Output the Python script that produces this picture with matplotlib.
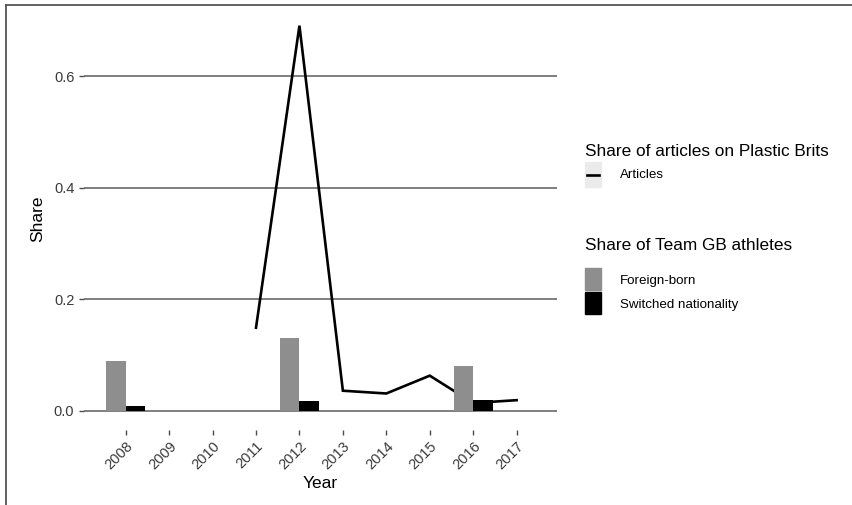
import numpy as np
import matplotlib
matplotlib.use("Agg")
from matplotlib import pyplot as plt
from matplotlib.patches import Rectangle
from matplotlib.lines import Line2D

plt.rcParams['font.family'] = ['Liberation Sans', 'DejaVu Sans']

years = [2008, 2009, 2010, 2011, 2012, 2013, 2014, 2015, 2016, 2017]

# share of articles on Plastic Brits (starts 2011)
article_years = [2011, 2012, 2013, 2014, 2015, 2016, 2017]
articles = [0.149, 0.691, 0.036, 0.031, 0.063, 0.014, 0.019]

# share of Team GB athletes (Olympic years)
olympic_years = [2008, 2012, 2016]
foreign_born = [0.090, 0.131, 0.081]
switched = [0.0085, 0.018, 0.020]

fig = plt.figure(figsize=(8.52, 5.05), dpi=100)
ax = fig.add_axes([84 / 852, 1 - 430 / 505, 473 / 852, 423 / 505])

w = 0.45
ax.bar(np.array(olympic_years) - w / 2, foreign_born, width=w, color='#8e8e8e', zorder=3)
ax.bar(np.array(olympic_years) + w / 2, switched, width=w, color='black', zorder=3)
ax.plot(article_years, articles, color='black', lw=1.9, zorder=2, solid_joinstyle='miter')

ax.set_ylim(-0.0345, 0.7245)
ax.set_xlim(2007.04, 2017.93)
ax.set_yticks([0.0, 0.2, 0.4, 0.6])
ax.set_yticklabels(['0.0', '0.2', '0.4', '0.6'])
ax.set_xticks(years)
ax.set_xticklabels([str(y) for y in years], rotation=45, ha='right', va='top',
                   rotation_mode='anchor')
ax.yaxis.grid(True, color='#5c5c5c', lw=1.1, zorder=1)
ax.set_axisbelow(True)
for s in ax.spines.values():
    s.set_visible(False)
ax.tick_params(axis='both', colors='#4d4d4d', labelcolor='#3a3a3a', labelsize=10.5,
               length=3.5, width=1)
ax.tick_params(axis='x', pad=3)
ax.set_xlabel('Year', fontsize=12.5, labelpad=3)
ax.set_ylabel('Share', fontsize=12.5, labelpad=6)

# legend drawn by hand, ggplot style
def fx(px):
    return px / 852

def fy(py):
    return 1 - py / 505

fig.text(fx(585), fy(152), 'Share of articles on Plastic Brits', fontsize=12.4,
         va='center', ha='left')
fig.add_artist(Rectangle((fx(585), fy(187)), fx(16), 25 / 505, color='#ebebeb',
                         transform=fig.transFigure))
fig.add_artist(Line2D([fx(587), fx(599)], [fy(175), fy(175)], color='black', lw=1.9,
                      transform=fig.transFigure))
fig.text(fx(620), fy(175), 'Articles', fontsize=9.6, va='center', ha='left')

fig.text(fx(585), fy(245), 'Share of Team GB athletes', fontsize=12.4,
         va='center', ha='left')
fig.add_artist(Rectangle((fx(585), fy(290)), fx(16), 22 / 505, color='#8e8e8e',
                         transform=fig.transFigure))
fig.add_artist(Rectangle((fx(585), fy(314)), fx(16), 22 / 505, color='black',
                         transform=fig.transFigure))
fig.text(fx(620), fy(281), 'Foreign-born', fontsize=9.6, va='center', ha='left')
fig.text(fx(620), fy(305), 'Switched nationality', fontsize=9.6, va='center', ha='left')

# frame lines at top and left edge of the image
fig.add_artist(Line2D([fx(6), 1], [fy(5), fy(5)], color='#555555', lw=1.3,
                      transform=fig.transFigure))
fig.add_artist(Line2D([fx(6), fx(6)], [fy(5), 0], color='#555555', lw=1.3,
                      transform=fig.transFigure))

fig.savefig('out.png', dpi=100)
